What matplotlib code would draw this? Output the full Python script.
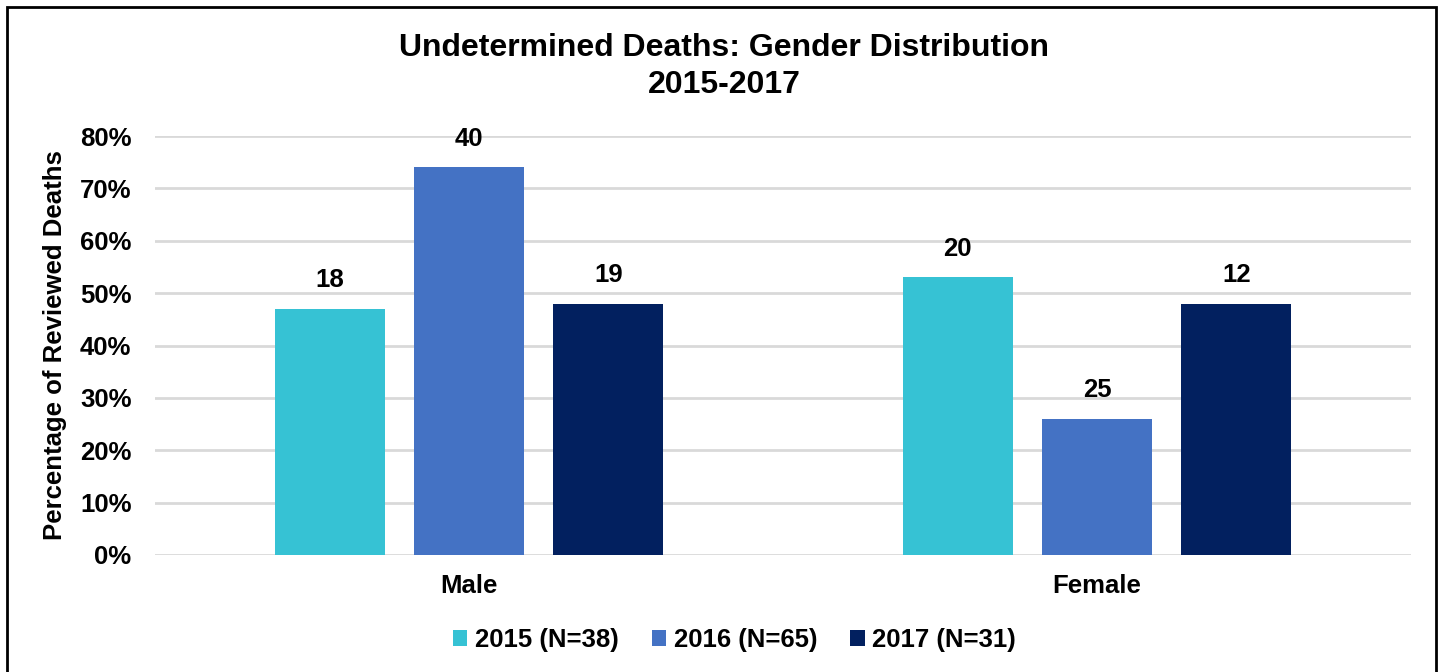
import numpy as np
import matplotlib.pyplot as plt
from matplotlib.patches import Rectangle

# data
genders = ["Male", "Female"]
series = ["2015 (N=38)", "2016 (N=65)", "2017 (N=31)"]
pct_2015 = [47, 53]
pct_2016 = [74, 26]
pct_2017 = [48, 48]
count_2015 = [18, 20]
count_2016 = [40, 25]
count_2017 = [19, 12]

colors = ["#36C2D4", "#4472C4", "#02205F"]

plt.rcParams["font.family"] = ["Liberation Sans", "DejaVu Sans"]
plt.rcParams["font.weight"] = "bold"

fig = plt.figure(figsize=(14.4, 6.72), dpi=100)
ax = fig.add_axes([155 / 1440, 1 - 555 / 672, 1256 / 1440, 419 / 672])

x = np.arange(len(genders))
width = 0.175
step = 0.222
fs = 18.5

all_pct = [pct_2015, pct_2016, pct_2017]
all_cnt = [count_2015, count_2016, count_2017]

for i, (pct, cnt) in enumerate(zip(all_pct, all_cnt)):
    pos = x + (i - 1) * step
    bars = ax.bar(pos, np.array(pct) / 100, width, color=colors[i], label=series[i], zorder=3)
    for b, c in zip(bars, cnt):
        ax.annotate(str(c), (b.get_x() + b.get_width() / 2, b.get_height()),
                    xytext=(0, 12), textcoords="offset points",
                    ha="center", va="bottom", fontsize=fs, fontweight="bold")

ax.set_xlim(-0.5, 1.5)
ax.set_ylim(0, 0.8)
ticks = np.arange(0, 0.81, 0.1)
ax.set_yticks(ticks)
ax.set_yticklabels([f"{int(round(v * 100))}%" for v in ticks], fontsize=fs)
ax.set_xticks(x)
ax.set_xticklabels(genders, fontsize=fs)
ax.tick_params(axis="both", length=0)
ax.tick_params(axis="x", pad=14)
ax.tick_params(axis="y", pad=17)
ax.grid(axis="y", color="#D9D9D9", linewidth=2, zorder=0)
for s in ax.spines.values():
    s.set_visible(False)

ax.set_ylabel("Percentage of Reviewed Deaths", fontsize=fs, fontweight="bold", labelpad=9)

fig.text(0.503, 1 - 48 / 672, "Undetermined Deaths: Gender Distribution", ha="center", va="center",
         fontsize=23, fontweight="bold")
fig.text(0.503, 1 - 85 / 672, "2015-2017", ha="center", va="center", fontsize=23, fontweight="bold")

fig.legend(loc="center", bbox_to_anchor=(0.51, 1 - 640 / 672), ncol=3, frameon=False,
           fontsize=fs, handlelength=0.55, handleheight=0.55, handletextpad=0.3, columnspacing=1.3)

# outer frame
fig.patches.append(Rectangle((7 / 1440, -0.01), 1429 / 1440, 1 - 7 / 672 + 0.01, transform=fig.transFigure,
                             fill=False, edgecolor="black", linewidth=2))

fig.savefig("out.png", dpi=100, facecolor="white")
